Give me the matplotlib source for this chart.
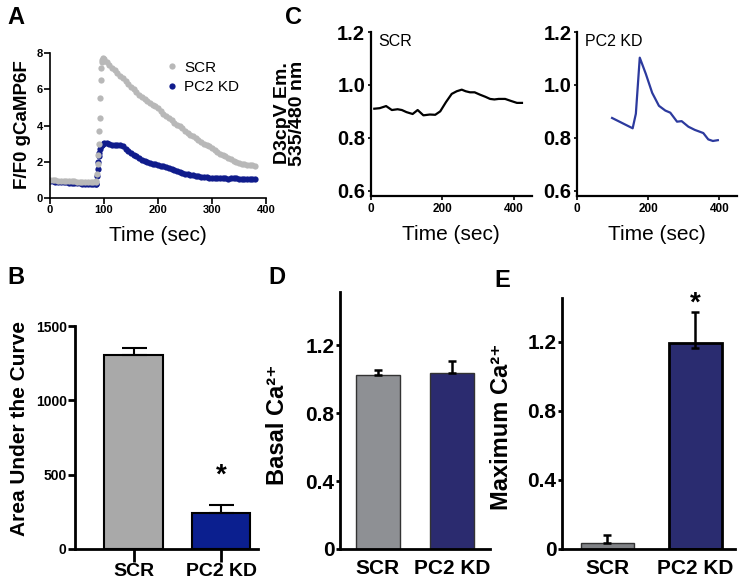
import numpy as np
import matplotlib.pyplot as plt

plt.rcParams['font.family'] = ['Liberation Sans', 'DejaVu Sans']
plt.rcParams['font.weight'] = 'bold'

# ---- Panel A: gCaMP6F traces (scatter) ----
a_t_base = [0, 5, 10, 15, 20, 25, 30, 35, 40, 45, 50, 55, 60, 65, 70, 75, 80, 85]
a_scr_base = [1.0, 0.98, 0.97, 0.96, 0.95, 0.95, 0.94, 0.93, 0.92, 0.92, 0.91, 0.9,
              0.9, 0.89, 0.88, 0.88, 0.87, 0.87]
a_kd_base = [0.95, 0.93, 0.91, 0.9, 0.88, 0.87, 0.86, 0.85, 0.84, 0.83, 0.82, 0.81,
             0.8, 0.79, 0.78, 0.77, 0.76, 0.75]
a_t_scr_rise = [86, 87, 88, 89, 90, 91, 92, 93, 94, 95, 96, 97, 98]
a_scr_rise = [0.95, 1.3, 1.9, 2.4, 3.0, 3.7, 4.4, 5.5, 6.5, 7.2, 7.5, 7.6, 7.7]
a_t_kd_rise = [86, 87, 88, 89, 90, 91, 92, 94, 96, 98]
a_kd_rise = [0.8, 1.2, 1.6, 2.0, 2.3, 2.5, 2.7, 2.85, 2.95, 3.0]
a_t_decay = list(range(100, 385, 5))
a_scr_decay = [7.65, 7.5, 7.35, 7.2, 7.05, 6.9, 6.75, 6.6, 6.45, 6.3,
               6.15, 6.0, 5.85, 5.7, 5.55, 5.45, 5.35, 5.25, 5.15, 5.05,
               4.95, 4.8, 4.65, 4.5, 4.4, 4.3, 4.15, 4.05, 3.95, 3.85,
               3.7, 3.6, 3.5, 3.4, 3.3, 3.2, 3.1, 3.0, 2.95, 2.85,
               2.75, 2.65, 2.55, 2.45, 2.4, 2.3, 2.2, 2.15, 2.05, 2.0,
               1.95, 1.9, 1.85, 1.8, 1.8, 1.8, 1.75]
a_kd_decay = [3.05, 3.05, 3.0, 2.95, 2.9, 2.95, 2.95, 2.85, 2.7, 2.6,
              2.5, 2.4, 2.3, 2.2, 2.1, 2.05, 2.0, 1.95, 1.9, 1.86,
              1.82, 1.78, 1.75, 1.7, 1.65, 1.6, 1.55, 1.5, 1.45, 1.4,
              1.35, 1.32, 1.29, 1.26, 1.23, 1.2, 1.18, 1.16, 1.14, 1.12,
              1.1, 1.1, 1.1, 1.09, 1.08, 1.08, 1.07, 1.08, 1.1, 1.08,
              1.07, 1.06, 1.06, 1.05, 1.05, 1.05, 1.05]

# ---- Panel C: D3cpV ratio traces ----
c_t_scr = [10, 25, 43, 59, 75, 87, 100, 117, 131, 147, 165, 180, 194, 210, 226,
           240, 254, 265, 277, 290, 305, 320, 333, 345, 357, 375, 390, 408, 422]
c_scr = [0.91, 0.912, 0.92, 0.905, 0.908, 0.905, 0.897, 0.89, 0.905, 0.885, 0.888,
         0.887, 0.9, 0.935, 0.966, 0.976, 0.982, 0.976, 0.972, 0.972, 0.963, 0.955,
         0.947, 0.945, 0.947, 0.947, 0.94, 0.932, 0.932]
c_t_kd = [98, 156, 165, 176, 193, 211, 230, 248, 262, 271, 281, 294, 313, 331,
          355, 369, 382, 396]
c_kd = [0.875, 0.836, 0.891, 1.103, 1.042, 0.97, 0.921, 0.903, 0.895, 0.879,
        0.861, 0.863, 0.842, 0.83, 0.818, 0.794, 0.788, 0.791]

# ---- Bar panels ----
groups = ['SCR', 'PC2 KD']
b_vals = [1303, 242]
b_err = [52, 56]
d_vals = [1.025, 1.039]
d_err = [0.03, 0.068]
e_vals = [0.035, 1.194]
e_err_hi = [0.048, 0.18]
e_err_lo = [0.0, 0.03]
de_ticks = [0, 0.4, 0.8, 1.2]
de_ticklabels = ['0', '0.4', '0.8', '1.2']

W, H = 741, 580
fig = plt.figure(figsize=(W / 100, H / 100), dpi=100)


def add_ax(l, t, r, b):
    return fig.add_axes([l / W, 1 - b / H, (r - l) / W, (b - t) / H])


def style(ax, lw=1.5):
    for s in ['top', 'right']:
        ax.spines[s].set_visible(False)
    for s in ['left', 'bottom']:
        ax.spines[s].set_linewidth(lw)


# Panel A
axA = add_ax(50, 53, 266, 198)
style(axA, 1.2)
kd_pts, = axA.plot(a_t_base + a_t_kd_rise + a_t_decay, a_kd_base + a_kd_rise + a_kd_decay,
                   'o', color='#101c8c', ms=4.5, mec='none', label='PC2 KD')
scr_pts, = axA.plot(a_t_base + a_t_scr_rise + a_t_decay, a_scr_base + a_scr_rise + a_scr_decay,
                    'o', color='#b8b8b8', ms=4.5, mec='none', label='SCR')
axA.set_xlim(0, 400)
axA.set_ylim(0, 8)
axA.set_xticks([0, 100, 200, 300, 400])
axA.set_yticks([0, 2, 4, 6, 8])
axA.tick_params(labelsize=8, length=4, width=1.2, pad=1)
axA.set_xlabel('Time (sec)', fontsize=15, labelpad=8)
axA.legend(handles=[scr_pts, kd_pts], loc='upper left', bbox_to_anchor=(0.5, 1.0),
           frameon=False, prop={'weight': 'normal', 'size': 11}, handlelength=0.8,
           handletextpad=0.4, borderpad=0, labelspacing=0.35)
fig.text(23 / W, 1 - 125 / H, 'F/F0 gCaMP6F', rotation=90, ha='center', va='center', fontsize=13.5)

# Panel C
axC1 = add_ax(370.7, 32, 532, 196)
axC2 = add_ax(577.3, 32, 737, 196)
for ax, t, v, col, name in [(axC1, c_t_scr, c_scr, 'black', 'SCR'),
                            (axC2, c_t_kd, c_kd, '#2c3a9e', 'PC2 KD')]:
    style(ax, 1.6)
    ax.plot(t, v, color=col, lw=1.6)
    ax.set_xlim(0, 450)
    ax.set_ylim(0.58, 1.2)
    ax.set_xticks([0, 200, 400])
    ax.set_yticks([0.6, 0.8, 1.0, 1.2])
    ax.tick_params(axis='x', labelsize=8.5, length=3, width=1.2, pad=2)
    ax.tick_params(axis='y', labelsize=14.5, length=2, width=1.2, pad=2)
    ax.set_xlabel('Time (sec)', fontsize=15, labelpad=7.5)
    ax.text(0.05, 0.94, name, transform=ax.transAxes, fontsize=11.5, fontweight='normal',
            ha='left', va='center')
fig.text(290 / W, 1 - 113 / H, 'D3cpV Em.\n535/480 nm', rotation=90, ha='center',
         va='center', fontsize=14, linespacing=0.9)

# Panel B
axB = add_ax(75, 326, 258, 549)
style(axB, 2)
axB.bar([0, 1], b_vals, width=0.667, color=['#a9a9a9', '#0b1f8f'], edgecolor='black',
        linewidth=1.5, zorder=2)
axB.errorbar([0, 1], b_vals, yerr=[[0, 0], b_err], fmt='none', ecolor='black',
             elinewidth=1.5, capsize=9, capthick=1.5, zorder=3)
axB.set_xlim(-0.67, 1.42)
axB.set_ylim(0, 1500)
axB.set_yticks([0, 500, 1000, 1500])
axB.set_xticks([0, 1], groups)
axB.tick_params(axis='y', labelsize=10, length=5, width=2, pad=1)
axB.tick_params(axis='x', labelsize=14, length=9, width=2, pad=1)
axB.text(1, 495, '*', ha='center', va='center', fontsize=20)
fig.text(20 / W, 1 - 428 / H, 'Area Under the Curve', rotation=90, ha='center',
         va='center', fontsize=15)

# Panel D
axD = add_ax(340, 292, 490, 549)
style(axD, 2)
axD.bar([0, 1], d_vals, width=0.6, color=['#8e9094', '#2b2b6f'], edgecolor='#333333',
        linewidth=1, zorder=2)
axD.errorbar([0, 1], d_vals, yerr=[[0, 0], d_err], fmt='none', ecolor='black',
             elinewidth=1.8, capsize=3, capthick=1.8, zorder=3)
axD.set_xlim(-0.51, 1.51)
axD.set_ylim(0, 1.515)
axD.set_yticks(de_ticks, de_ticklabels)
axD.set_xticks([0, 1], groups)
axD.tick_params(axis='y', labelsize=15, length=3, width=2, pad=1)
axD.tick_params(axis='x', labelsize=15, length=0, pad=7)
fig.text(277 / W, 1 - 425 / H, 'Basal Ca²⁺', rotation=90, ha='center',
         va='center', fontsize=17)

# Panel E
axE = add_ax(562, 298, 735, 549)
style(axE, 2)
axE.bar([0, 1], e_vals, width=0.6, color=['#808286', '#2a2c70'], edgecolor=['#333333', 'black'],
        linewidth=[1, 2], zorder=2)
axE.errorbar([0, 1], e_vals, yerr=[e_err_lo, e_err_hi], fmt='none', ecolor='black',
             elinewidth=1.8, capsize=3, capthick=1.8, zorder=3)
axE.set_xlim(-0.515, 1.45)
axE.set_ylim(0, 1.453)
axE.set_yticks(de_ticks, de_ticklabels)
axE.set_xticks([0, 1], groups)
axE.tick_params(axis='y', labelsize=15, length=3, width=2, pad=1)
axE.tick_params(axis='x', labelsize=15, length=0, pad=7)
axE.text(1, 1.42, '*', ha='center', va='center', fontsize=20)
fig.text(501 / W, 1 - 427 / H, 'Maximum Ca²⁺', rotation=90, ha='center',
         va='center', fontsize=17)

# panel letters
for letter, x, y in [('A', 16, 17), ('C', 293, 18), ('B', 16, 278), ('D', 277, 278), ('E', 502, 280)]:
    fig.text(x / W, 1 - y / H, letter, ha='center', va='center', fontsize=17)

fig.savefig('out.png', dpi=100)
